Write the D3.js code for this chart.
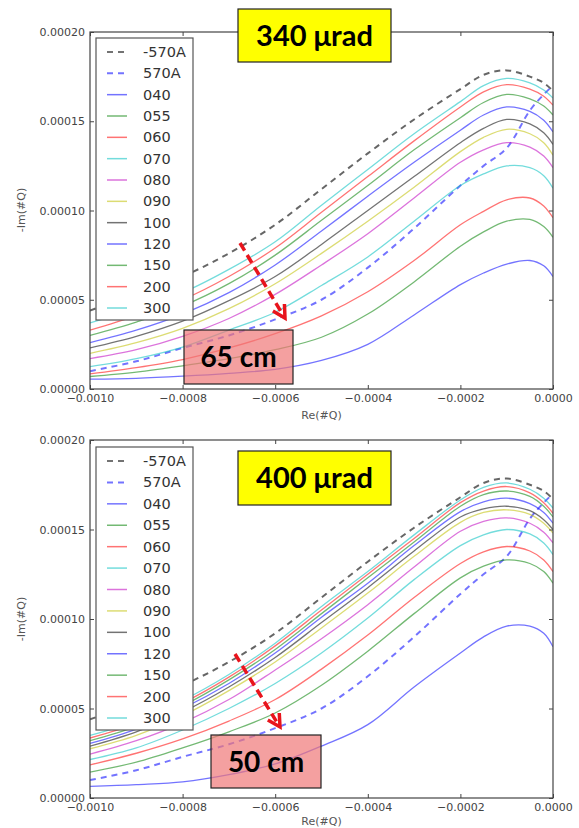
<!DOCTYPE html>
<html><head><meta charset="utf-8">
<script src="https://cdn.jsdelivr.net/npm/d3@7"></script>
<style>body{margin:0;background:#fff;} svg{display:block;}</style>
</head><body>
<svg id="c" width="579" height="828"></svg>
<script>
// x values (units of 1e-4) and series values (units of 1e-5)
const xs = [-10,-9,-8,-7,-6,-5,-4,-3,-2,-1.5,-1,-0.5,-0.2,0];
const seriesNames = ["-570A","570A","040","055","060","070","080","090","100","120","150","200","300"];
const seriesColors = ["#000000","#0000ff","#0000ff","#008000","#ff0000","#00bfbf","#bf00bf","#bfbf00","#000000","#0000ff","#008000","#ff0000","#00bfbf"];
const seriesDashed = [true,true,false,false,false,false,false,false,false,false,false,false,false];

const ref_m570A = [4.4,5.3,6.3,7.6,9.2,11.2,13.2,15.1,16.8,17.6,17.85,17.5,17.15,16.7];
const ref_570A  = [1.0,1.55,2.3,3.0,3.9,5.0,6.8,9.0,11.4,12.5,13.5,15.6,16.5,17.0];

// panel 1: 340 urad
const p1_040 = [0.55,0.6,0.72,0.88,1.1,1.6,2.5,4.15,5.85,6.5,7.0,7.2,6.9,6.3];
const p1_055 = [0.7,0.95,1.3,1.7,2.2,2.9,4.2,6.0,8.0,8.8,9.4,9.5,9.1,8.5];
const p1_060 = [0.85,1.2,1.65,2.3,3.1,4.1,5.45,7.2,9.2,9.95,10.6,10.7,10.25,9.6];
const p1_070 = [1.25,1.7,2.35,3.3,4.3,5.8,7.4,9.4,11.4,12.05,12.5,12.4,11.95,11.25];
const p1_080 = [1.7,2.2,2.95,3.95,5.3,6.95,8.7,10.7,12.7,13.4,13.8,13.55,13.05,12.4];
const p1_090 = [2.0,2.6,3.4,4.5,5.9,7.6,9.4,11.3,13.3,14.1,14.55,14.3,13.8,13.1];
const p1_100 = [2.3,2.95,3.8,4.95,6.3,8.1,10.0,11.9,13.8,14.6,15.1,14.85,14.35,13.7];
const p1_120 = [2.6,3.3,4.2,5.4,6.95,8.85,10.8,12.7,14.5,15.35,15.8,15.55,15.05,14.4];
const p1_150 = [3.0,3.75,4.65,5.9,7.5,9.45,11.4,13.4,15.2,16.05,16.5,16.25,15.85,15.35];
const p1_200 = [3.3,4.1,5.0,6.3,7.9,9.9,11.9,13.9,15.8,16.65,17.05,16.8,16.4,15.9];
const p1_300 = [3.7,4.5,5.4,6.7,8.25,10.3,12.3,14.3,16.1,17.0,17.4,17.15,16.75,16.3];

// panel 2: 400 urad
const p2_040 = [0.65,0.75,0.9,1.3,1.9,2.9,4.1,6.2,8.1,9.0,9.6,9.6,9.2,8.45];
const p2_055 = [1.45,2.0,2.8,3.7,4.75,6.3,8.2,10.3,12.3,12.95,13.3,13.1,12.65,12.0];
const p2_060 = [1.85,2.5,3.3,4.3,5.5,7.2,9.1,11.2,13.1,13.75,14.05,13.8,13.3,12.65];
const p2_070 = [2.15,2.8,3.8,5.0,6.4,8.1,10.05,12.2,14.1,14.7,15.0,14.75,14.25,13.6];
const p2_080 = [2.45,3.2,4.2,5.5,7.15,8.9,10.8,12.9,14.9,15.45,15.65,15.35,14.85,14.25];
const p2_090 = [2.75,3.5,4.6,6.0,7.6,9.5,11.45,13.5,15.4,15.95,16.1,15.85,15.35,14.8];
const p2_100 = [2.9,3.7,4.8,6.2,7.85,9.8,11.75,13.8,15.7,16.15,16.3,16.05,15.55,15.0];
const p2_120 = [3.05,3.85,5.0,6.4,8.1,10.1,12.0,14.1,16.0,16.55,16.75,16.45,15.95,15.35];
const p2_150 = [3.2,4.0,5.15,6.6,8.3,10.3,12.3,14.3,16.3,16.95,17.15,16.85,16.3,15.7];
const p2_200 = [3.35,4.15,5.3,6.75,8.5,10.5,12.5,14.5,16.5,17.15,17.4,17.05,16.5,15.9];
const p2_300 = [3.5,4.3,5.45,6.9,8.65,10.7,12.65,14.7,16.65,17.35,17.6,17.25,16.75,16.2];

const xTickValues = [-10,-8,-6,-4,-2,0];
const xTickLabels = ["\u22120.0010","\u22120.0008","\u22120.0006","\u22120.0004","\u22120.0002","0.0000"];
const yTickValues = [0,5,10,15,20];
const yTickLabels = ["0.00000","0.00005","0.00010","0.00015","0.00020"];

const panels = [
  {title:"340 \u03bcrad", note:"65 cm", series:[ref_m570A,ref_570A,p1_040,p1_055,p1_060,p1_070,p1_080,p1_090,p1_100,p1_120,p1_150,p1_200,p1_300],
   top:32, bottom:389, titleBox:[238,9,391,62], noteBox:[184,330,293,384], arrow:[240,243,285,318], legend:[96,38,193,320], xlabelY:419, ylabelY:210},
  {title:"400 \u03bcrad", note:"50 cm", series:[ref_m570A,ref_570A,p2_040,p2_055,p2_060,p2_070,p2_080,p2_090,p2_100,p2_120,p2_150,p2_200,p2_300],
   top:440, bottom:798, titleBox:[238,451,391,505], noteBox:[211,735,321,788], arrow:[235,654,280,727], legend:[96,447,193,730], xlabelY:825, ylabelY:619}
];

const svg = d3.select("#c");
const L = 90, R = 553;
const axisColor = "#444";

panels.forEach((p, pi) => {
  const x = d3.scaleLinear().domain([-10,0]).range([L,R]);
  const y = d3.scaleLinear().domain([0,20]).range([p.bottom,p.top]);
  const g = svg.append("g");
  const clipId = "clip"+pi;
  g.append("clipPath").attr("id",clipId).append("rect")
    .attr("x",L).attr("y",p.top).attr("width",R-L).attr("height",p.bottom-p.top);

  const line = d3.line().x((d,i)=>x(xs[i])).y(d=>y(d)).curve(d3.curveCatmullRom.alpha(0.5));
  const lg = g.append("g").attr("clip-path",`url(#${clipId})`);
  p.series.forEach((s, si) => {
    lg.append("path").attr("d", line(s)).attr("fill","none")
      .attr("stroke", seriesColors[si])
      .attr("stroke-opacity", si===0 ? 0.6 : 0.55)
      .attr("stroke-width", seriesDashed[si] ? 2 : 1.3)
      .attr("stroke-dasharray", seriesDashed[si] ? "6,5" : null);
  });

  // axes (inward ticks)
  const fmtX = d => xTickLabels[xTickValues.indexOf(d)];
  const fmtY = d => yTickLabels[yTickValues.indexOf(d)];
  const ax = g.append("g").attr("transform",`translate(0,${p.bottom})`)
    .call(d3.axisBottom(x).tickValues(xTickValues).tickFormat(fmtX).tickSize(-4).tickPadding(5));
  const ay = g.append("g").attr("transform",`translate(${L},0)`)
    .call(d3.axisLeft(y).tickValues(yTickValues).tickFormat(fmtY).tickSize(-4).tickPadding(5));
  const at = g.append("g").attr("transform",`translate(0,${p.top})`)
    .call(d3.axisTop(x).tickValues(xTickValues).tickFormat("").tickSize(-4));
  const ar = g.append("g").attr("transform",`translate(${R},0)`)
    .call(d3.axisRight(y).tickValues(yTickValues).tickFormat("").tickSize(-4));
  [ax,ay,at,ar].forEach(a=>{
    a.select(".domain").remove();
    a.selectAll("line").attr("stroke",axisColor);
    a.selectAll("text").attr("fill","#444").attr("font-family","DejaVu Sans").attr("font-size",11);
  });
  g.append("rect").attr("x",L).attr("y",p.top).attr("width",R-L).attr("height",p.bottom-p.top)
    .attr("fill","none").attr("stroke",axisColor).attr("stroke-width",1.2);

  g.append("text").attr("x",(L+R)/2).attr("y",p.xlabelY).attr("text-anchor","middle")
    .attr("font-family","DejaVu Sans").attr("font-size",11).attr("fill","#555").text("Re(#Q)");
  g.append("text").attr("transform",`translate(25,${p.ylabelY}) rotate(-90)`).attr("text-anchor","middle")
    .attr("font-family","DejaVu Sans").attr("font-size",11).attr("fill","#555").text("-Im(#Q)");

  // legend
  const [lx0,ly0,lx1,ly1] = p.legend;
  g.append("rect").attr("x",lx0).attr("y",ly0).attr("width",lx1-lx0).attr("height",ly1-ly0)
    .attr("fill","#fff").attr("stroke","#555").attr("stroke-width",1.2);
  const rowH = (ly1-ly0-26)/12;
  seriesNames.forEach((n, si) => {
    const ry = ly0 + 14 + si*rowH;
    g.append("line").attr("x1",lx0+11).attr("x2",lx0+31).attr("y1",ry).attr("y2",ry)
      .attr("stroke",seriesColors[si]).attr("stroke-opacity",0.55)
      .attr("stroke-width", seriesDashed[si] ? 2 : 1.5)
      .attr("stroke-dasharray", seriesDashed[si] ? "6,5" : null);
    g.append("text").attr("x",lx0+47).attr("y",ry+5).attr("font-family","DejaVu Sans")
      .attr("font-size",14.5).attr("fill","#333").text(n);
  });

  // title box
  const [tx0,ty0,tx1,ty1] = p.titleBox;
  g.append("rect").attr("x",tx0).attr("y",ty0).attr("width",tx1-tx0).attr("height",ty1-ty0)
    .attr("fill","#ffff00").attr("stroke","#222").attr("stroke-width",1.2);
  g.append("text").attr("x",(tx0+tx1)/2).attr("y",(ty0+ty1)/2+10).attr("text-anchor","middle")
    .attr("font-family","Lato").attr("font-weight","bold").attr("font-size",29).attr("fill","#000").text(p.title);

  // arrow
  const [ax0,ay0,ax1,ay1] = p.arrow;
  g.append("line").attr("x1",ax0).attr("y1",ay0).attr("x2",ax1-2).attr("y2",ay1-3)
    .attr("stroke","#e8141c").attr("stroke-width",3.5).attr("stroke-dasharray","9,5");
  const ang = Math.atan2(ay1-ay0, ax1-ax0);
  const hl = 14, ha = 0.5;
  const pA = [ax1 - hl*Math.cos(ang-ha), ay1 - hl*Math.sin(ang-ha)];
  const pB = [ax1 - hl*Math.cos(ang+ha), ay1 - hl*Math.sin(ang+ha)];
  g.append("path").attr("d",`M${pA[0]},${pA[1]}L${ax1},${ay1}L${pB[0]},${pB[1]}`)
    .attr("fill","none").attr("stroke","#e8141c").attr("stroke-width",3.5);

  // note box
  const [nx0,ny0,nx1,ny1] = p.noteBox;
  g.append("rect").attr("x",nx0).attr("y",ny0).attr("width",nx1-nx0).attr("height",ny1-ny0)
    .attr("fill","#f07878").attr("fill-opacity",0.7).attr("stroke","#222").attr("stroke-width",1.2);
  g.append("text").attr("x",(nx0+nx1)/2).attr("y",(ny0+ny1)/2+10).attr("text-anchor","middle")
    .attr("font-family","Lato").attr("font-weight","bold").attr("font-size",28).attr("fill","#000").text(p.note);
});
</script>
</body></html>
